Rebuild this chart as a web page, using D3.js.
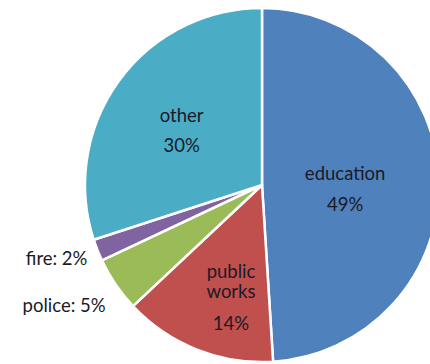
<!DOCTYPE html>
<html>
<head>
<meta charset="utf-8">
<script src="https://cdn.jsdelivr.net/npm/d3@7"></script>
<style>
  body { margin: 0; background: #fff; }
  svg { display: block; }
  .label { font-family: Lato, 'Open Sans', sans-serif; font-size: 18.5px; fill: #1a1a26; }
</style>
</head>
<body>
<svg width="430" height="364"></svg>
<script>
// data
var categories = ['education', 'public works', 'police', 'fire', 'other'];
var shares = [49, 14, 5, 2, 30];
var labelLines = [
    ['education', '49%'],
    ['public', 'works', '14%'],
    ['police: 5%'],
    ['fire: 2%'],
    ['other', '30%']
];
var colors = ['#4F81BD', '#C0504D', '#9BBB59', '#8064A2', '#4BACC6'];

// label layout: radius fraction, x nudge, line baselines relative to anchor
var labelLayout = [
    {f: 0.47, dx: 0,   anchor: 'middle', lines: [-2, 29]},
    {f: 0.66, dx: 12,  anchor: 'middle', lines: [-16, 4, 36]},
    {f: 1.0,  dx: -10, anchor: 'end',    lines: [28]},
    {f: 1.0,  dx: -10, anchor: 'end',    lines: [15]},
    {f: 0.54, dx: -3,  anchor: 'middle', lines: [-7, 23]}
];

var svg = d3.select('svg');
var cx = 262, cy = 185, radius = 177;

var g = svg.append('g')
    .attr('transform', 'translate(' + [cx, cy] + ')');

var data = categories.map(function(c, i) {
    return {name: c, value: shares[i], i: i};
});

var pie = d3.pie()
    .sort(null)
    .value(function(d) { return d.value; });

var arc = d3.arc()
    .innerRadius(0)
    .outerRadius(radius);

var arcs = pie(data);

g.selectAll('.slice')
    .data(arcs)
    .enter()
    .append('path')
    .attr('class', 'slice')
    .attr('d', arc)
    .attr('fill', function(d) { return colors[d.data.i]; })
    .attr('stroke', '#fff')
    .attr('stroke-width', 2.5)
    .attr('stroke-linejoin', 'round');

// labels
var labels = g.selectAll('.label')
    .data(arcs)
    .enter()
    .append('text')
    .attr('class', 'label')
    .attr('text-anchor', function(d) { return labelLayout[d.data.i].anchor; })
    .attr('transform', function(d) {
        var lay = labelLayout[d.data.i];
        var r = radius * lay.f;
        var c = d3.arc().innerRadius(r).outerRadius(r).centroid(d);
        return 'translate(' + [c[0] + lay.dx, c[1]] + ')';
    });

labels.each(function(d) {
    var lay = labelLayout[d.data.i];
    var t = d3.select(this);
    labelLines[d.data.i].forEach(function(line, k) {
        t.append('tspan')
            .attr('x', 0)
            .attr('y', lay.lines[k])
            .text(line);
    });
});
</script>
</body>
</html>
